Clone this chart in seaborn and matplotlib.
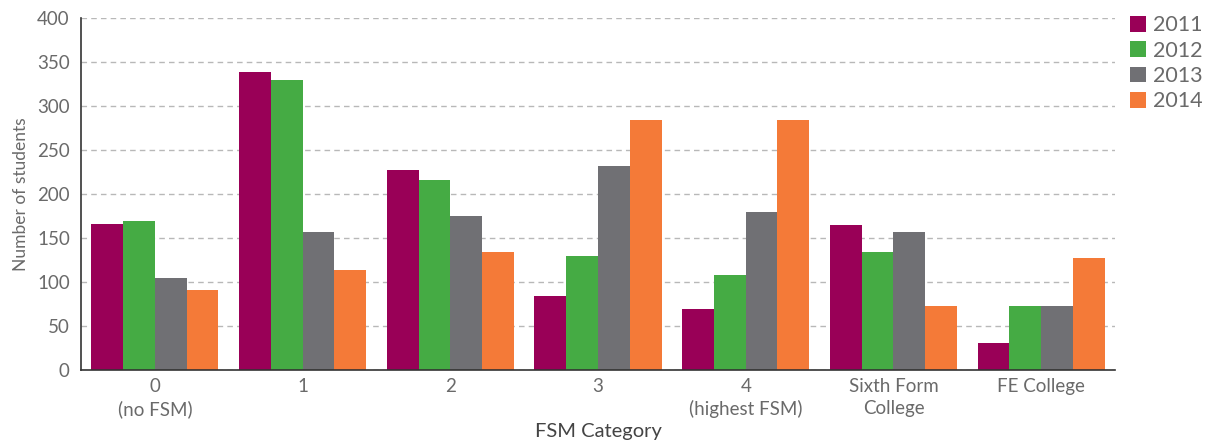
import pandas as pd
import matplotlib.pyplot as plt
import seaborn as sns

categories = ['0\n(no FSM)', '1', '2', '3', '4\n(highest FSM)', 'Sixth Form\nCollege', 'FE College']
years = ['2011', '2012', '2013', '2014']
values_2011 = [166, 339, 227, 84, 69, 165, 31]
values_2012 = [169, 330, 216, 130, 108, 134, 73]
values_2013 = [105, 157, 175, 232, 180, 157, 73]
values_2014 = [91, 114, 134, 284, 284, 73, 127]
colors = ['#990057', '#45AB44', '#707074', '#F47A38']

df = pd.DataFrame({
    'category': categories * 4,
    'year': sum([[y] * len(categories) for y in years], []),
    'students': values_2011 + values_2012 + values_2013 + values_2014,
})

sns.set_style('white')
plt.rcParams['font.family'] = ['Lato', 'DejaVu Sans']

fig = plt.figure(figsize=(12.12, 4.46), dpi=100)
ax = fig.add_axes([0.0668, 0.1704, 0.8532, 0.7892])

sns.barplot(data=df, x='category', y='students', hue='year', order=categories,
            hue_order=years, palette=colors, width=0.86, saturation=1,
            linewidth=0, ax=ax)

ax.set_xlim(-0.5, len(categories) - 0.5)
ax.set_ylim(0, 400)
ax.set_yticks(range(0, 401, 50))
ax.yaxis.grid(True, linestyle=(0, (4, 3)), color='#b8b8b8', linewidth=1)
ax.set_axisbelow(True)

for s in ['top', 'right']:
    ax.spines[s].set_visible(False)
for s in ['left', 'bottom']:
    ax.spines[s].set_color('#333333')
    ax.spines[s].set_linewidth(1.2)

ax.set_xticks([i - 0.5 for i in range(len(categories) + 1)], minor=True)
ax.tick_params(axis='x', which='major', length=0, pad=6, labelsize=13.5, labelcolor='#6a6a6a')
ax.tick_params(axis='x', which='minor', length=6, width=1, color='#333333', direction='out')
ax.tick_params(axis='y', which='major', length=5, width=1, color='#333333', direction='out',
               labelsize=13.5, labelcolor='#6a6a6a', pad=3)
for lbl in ax.get_xticklabels():
    lbl.set_linespacing(1.3)

ax.set_ylabel('Number of students', fontsize=12.5, color='#6a6a6a', labelpad=6)
ax.set_xlabel('FSM Category', fontsize=14.5, color='#444444', labelpad=4)

handles, labels = ax.get_legend_handles_labels()
ax.legend(handles, labels, loc='upper left', bbox_to_anchor=(0.925, 0.985),
          bbox_transform=fig.transFigure, frameon=False, fontsize=15.5,
          handlelength=0.75, handleheight=0.75, handletextpad=0.35,
          labelspacing=0.25, labelcolor='#6a6a6a', borderaxespad=0)

fig.savefig('out.png', dpi=100)
